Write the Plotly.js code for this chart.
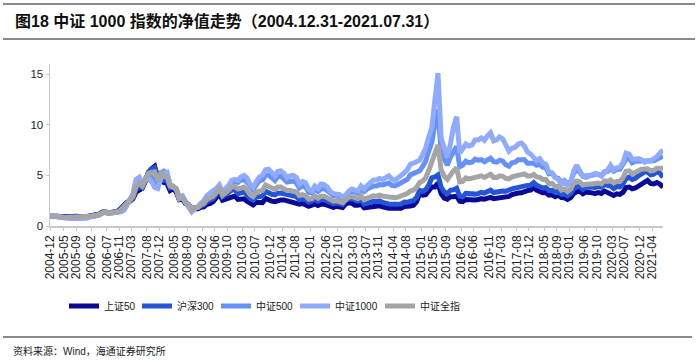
<!DOCTYPE html>
<html>
<head>
<meta charset="utf-8">
<script src="https://cdn.plot.ly/plotly-3.0.1.min.js"></script>
<style>html,body{margin:0;padding:0;background:#fff;}#chart{width:700px;height:363px;}</style>
</head>
<body>
<div id="chart"></div>
<script>
// Month-end observation dates, 2004-12 .. 2021-07
var months = [];
(function(){
  for (var y = 2004; y <= 2021; y++) {
    for (var m = 1; m <= 12; m++) {
      if (y === 2004 && m < 12) continue;
      if (y === 2021 && m > 7) break;
      var last = new Date(Date.UTC(y, m, 0)).getUTCDate();
      months.push(y + '-' + (m < 10 ? '0' + m : m) + '-' + last);
    }
  }
})();

var seriesNames = ['上证50', '沪深300', '中证500', '中证1000', '中证全指'];

var sz50 = [1.00,
 0.97,1.02,0.92,0.92,0.84,0.88,0.89,0.95,0.93,0.89,0.89,0.92,
 1.00,1.02,1.04,1.17,1.36,1.40,1.28,1.32,1.38,1.46,1.72,2.14,
 2.36,2.44,2.70,3.35,3.60,3.72,4.40,5.30,5.65,5.90,4.75,5.20,
 4.30,4.20,3.50,3.70,3.35,2.60,2.65,2.20,2.10,1.62,1.70,1.70,
 1.85,1.88,2.15,2.20,2.40,2.80,3.20,2.55,2.65,2.80,2.95,2.95,
 2.62,2.65,2.68,2.45,2.18,2.08,2.35,2.30,2.30,2.72,2.55,2.45,
 2.40,2.55,2.58,2.58,2.50,2.50,2.42,2.35,2.15,2.22,2.12,1.95,
 2.05,2.18,2.02,2.18,2.15,2.05,1.95,1.85,1.95,1.92,1.82,2.18,
 2.30,2.25,2.05,2.05,2.15,1.80,1.85,1.95,1.98,1.95,2.00,1.88,
 1.78,1.75,1.75,1.76,1.74,1.75,1.92,1.90,1.98,2.05,2.40,3.20,
 3.05,3.10,3.40,3.85,3.85,4.25,3.20,2.75,2.65,2.90,2.90,2.95,
 2.45,2.40,2.62,2.58,2.60,2.58,2.62,2.70,2.65,2.70,2.82,2.70,
 2.75,2.80,2.80,2.82,2.92,3.10,3.22,3.25,3.28,3.45,3.50,3.55,
 3.80,3.55,3.38,3.28,3.30,3.05,3.08,2.90,3.05,2.80,2.78,2.62,
 2.80,3.20,3.38,3.42,3.18,3.35,3.32,3.25,3.22,3.30,3.22,3.45,
 3.30,3.22,3.02,3.18,3.12,3.32,3.80,3.85,3.68,3.75,3.95,4.15,
 4.35,4.50,4.20,4.15,4.30,4.15,3.82];

var hs300 = [1.00,
 0.98,1.03,0.93,0.92,0.85,0.87,0.88,0.94,0.92,0.88,0.89,0.92,
 1.00,1.03,1.05,1.17,1.34,1.39,1.29,1.33,1.38,1.44,1.65,2.04,
 2.31,2.45,2.78,3.60,3.90,3.80,4.47,5.32,5.60,5.75,4.74,5.34,
 4.53,4.54,3.77,3.87,3.56,2.70,2.75,2.30,2.14,1.66,1.82,1.82,
 1.99,2.08,2.41,2.51,2.70,3.10,3.70,2.90,3.05,3.30,3.55,3.58,
 3.20,3.28,3.35,3.07,2.71,2.56,2.86,2.90,2.94,3.43,3.25,3.13,
 3.08,3.24,3.26,3.20,3.06,3.04,2.98,2.90,2.60,2.70,2.60,2.35,
 2.46,2.63,2.45,2.62,2.60,2.46,2.33,2.20,2.29,2.25,2.14,2.52,
 2.69,2.67,2.50,2.47,2.60,2.18,2.23,2.37,2.43,2.41,2.48,2.33,
 2.20,2.18,2.15,2.16,2.16,2.17,2.37,2.34,2.45,2.51,2.81,3.53,
 3.43,3.57,4.05,4.75,4.84,5.05,3.82,3.37,3.20,3.53,3.57,3.73,
 2.95,2.88,3.22,3.16,3.17,3.15,3.20,3.33,3.25,3.34,3.54,3.31,
 3.39,3.45,3.46,3.43,3.49,3.67,3.74,3.82,3.84,4.00,4.01,4.03,
 4.28,4.02,3.90,3.76,3.80,3.51,3.52,3.33,3.44,3.15,3.17,3.01,
 3.20,3.67,3.87,3.91,3.63,3.83,3.84,3.80,3.81,3.89,3.83,4.10,
 4.00,3.94,3.69,3.91,3.87,4.16,4.70,4.82,4.59,4.70,4.96,5.21,
 5.35,5.34,5.05,5.12,5.33,5.22,4.81];

var zz500 = [1.00,
 0.98,1.02,0.88,0.85,0.76,0.78,0.76,0.82,0.80,0.76,0.77,0.82,
 0.92,0.97,1.00,1.10,1.28,1.35,1.25,1.28,1.32,1.33,1.42,1.60,
 2.10,2.50,3.10,4.40,4.60,4.05,4.70,5.00,4.80,4.40,4.20,5.10,
 5.40,5.20,4.10,3.90,3.70,2.80,2.95,2.40,2.05,1.50,1.75,1.85,
 2.20,2.40,2.85,3.05,3.20,3.45,3.85,3.20,3.45,3.85,4.30,4.40,
 4.30,4.55,4.55,4.35,3.85,3.55,4.10,4.45,4.55,5.00,5.05,4.80,
 4.50,4.90,4.90,4.65,4.35,4.40,4.45,4.25,3.75,3.95,3.85,3.30,
 3.25,3.65,3.40,3.65,3.70,3.50,3.20,3.00,3.05,2.95,2.75,3.00,
 3.35,3.45,3.30,3.25,3.65,3.40,3.65,3.85,3.95,3.95,4.10,4.05,
 4.10,4.25,4.00,3.95,4.10,4.25,4.50,4.60,5.05,5.15,5.25,5.45,
 5.90,6.40,7.40,8.25,10.10,11.50,7.30,6.50,6.00,6.80,7.40,7.85,
 5.85,6.00,6.40,6.25,6.30,6.60,6.50,6.55,6.35,6.55,6.70,6.35,
 6.30,6.50,6.40,6.05,5.90,6.25,6.30,6.55,6.60,6.55,6.20,6.25,
 6.20,6.00,6.10,5.80,5.75,5.15,5.20,4.80,4.70,4.30,4.50,4.15,
 4.40,5.20,5.60,5.30,4.90,4.95,4.95,5.00,5.10,5.10,4.95,5.35,
 5.40,5.70,5.40,5.60,5.60,6.05,6.60,6.70,6.25,6.40,6.40,6.35,
 6.35,6.40,6.35,6.45,6.60,6.75,6.90];

var zz1000 = [1.00,
 0.98,1.03,0.88,0.85,0.74,0.76,0.74,0.80,0.78,0.74,0.75,0.80,
 0.90,0.95,0.98,1.08,1.27,1.38,1.25,1.28,1.33,1.32,1.40,1.55,
 2.10,2.55,3.20,4.60,4.80,3.90,4.55,4.70,4.40,3.80,3.70,4.70,
 5.20,5.30,4.10,3.80,3.65,2.70,2.90,2.30,1.95,1.40,1.72,1.88,
 2.25,2.50,3.00,3.30,3.50,3.70,4.05,3.35,3.60,4.00,4.50,4.60,
 4.50,4.85,5.00,4.75,4.10,3.80,4.40,4.85,5.00,5.55,5.60,5.30,
 4.95,5.40,5.45,5.20,4.75,4.95,5.00,4.80,4.15,4.40,4.25,3.60,
 3.45,3.95,3.70,4.15,4.10,3.85,3.40,3.20,3.20,3.10,2.85,3.05,
 3.45,3.65,3.55,3.45,3.95,3.65,4.00,4.35,4.55,4.55,4.70,4.60,
 4.75,4.95,4.65,4.50,4.75,4.95,5.25,5.55,6.10,6.20,6.40,6.50,
 7.10,7.70,8.80,9.70,12.50,15.10,8.70,7.70,6.80,8.10,9.80,10.80,
 7.20,7.60,8.10,7.90,8.00,8.50,8.50,8.70,8.45,8.90,9.20,8.40,
 8.50,8.80,8.60,8.00,7.40,7.70,7.75,8.10,8.20,7.90,7.30,7.10,
 6.70,6.45,6.65,6.20,6.10,5.30,5.25,4.80,4.60,4.10,4.40,4.05,
 4.30,5.40,6.00,5.55,4.95,4.80,4.90,5.00,5.20,5.10,4.95,5.25,
 5.50,6.00,5.50,5.75,5.80,6.25,7.20,7.10,6.60,6.60,6.65,6.55,
 6.30,6.45,6.40,6.65,6.85,7.20,7.50];

var zzqz = [1.00,
 0.98,1.03,0.91,0.89,0.81,0.83,0.83,0.89,0.87,0.83,0.84,0.87,
 0.96,1.00,1.02,1.13,1.32,1.38,1.28,1.31,1.36,1.40,1.58,1.90,
 2.25,2.50,2.90,3.90,4.25,3.95,4.55,5.20,5.30,5.35,4.45,5.20,
 4.90,4.85,3.95,3.95,3.65,2.75,2.85,2.35,2.15,1.60,1.80,1.85,
 2.10,2.25,2.65,2.80,2.95,3.30,3.80,3.05,3.25,3.55,3.85,3.90,
 3.65,3.80,3.85,3.55,3.10,2.90,3.30,3.45,3.50,4.05,3.95,3.75,
 3.60,3.85,3.85,3.70,3.50,3.50,3.45,3.35,3.00,3.10,3.00,2.65,
 2.70,2.95,2.75,2.95,2.95,2.80,2.60,2.45,2.50,2.45,2.30,2.60,
 2.85,2.90,2.75,2.70,2.95,2.60,2.75,2.90,2.98,2.95,3.05,2.95,
 2.90,2.95,2.85,2.80,2.85,2.95,3.15,3.20,3.45,3.55,3.80,4.30,
 4.45,4.75,5.50,6.30,7.10,8.00,5.55,4.90,4.60,5.15,5.45,5.75,
 4.35,4.40,4.75,4.65,4.70,4.85,4.85,4.95,4.80,4.95,5.10,4.80,
 4.80,4.95,4.90,4.70,4.65,4.85,4.90,5.05,5.10,5.15,4.95,4.95,
 5.10,4.85,4.80,4.60,4.60,4.15,4.20,3.90,3.90,3.55,3.65,3.40,
 3.65,4.20,4.45,4.35,4.05,4.15,4.15,4.15,4.20,4.25,4.15,4.45,
 4.40,4.55,4.25,4.40,4.40,4.75,5.40,5.45,5.15,5.25,5.45,5.60,
 5.60,5.65,5.45,5.50,5.70,5.75,5.70];

var tickLabels = ['2004-12','2005-05','2005-09','2006-02','2006-07','2006-11','2007-03','2007-08','2007-12',
 '2008-05','2008-09','2009-02','2009-06','2009-10','2010-03','2010-07','2010-12','2011-04','2011-08',
 '2012-01','2012-06','2012-10','2013-03','2013-07','2013-11','2014-04','2014-08','2015-01','2015-05',
 '2015-09','2016-02','2016-06','2016-11','2017-03','2017-08','2017-12','2018-05','2018-09','2019-01',
 '2019-06','2019-10','2020-03','2020-07','2020-12','2021-04'];
var tickVals = tickLabels.map(function(s, i){ return i === 0 ? '2004-12-31' : s + '-15'; });

var colors = ['#0a0a96', '#2454d8', '#6690fa', '#8fabff', '#a5a5a5'];
var legendWidths = [28, 34, 34, 40, 40];
var data = [sz50, hs300, zz500, zz1000, zzqz];

var traces = data.map(function(v, i){
  return {
    x: months, y: v, type: 'scatter', mode: 'lines', name: seriesNames[i],
    line: {color: colors[i], width: 5}, hoverinfo: 'skip', legendwidth: legendWidths[i]
  };
});

var FONT = 'Liberation Sans, Arial, Noto Sans CJK SC, sans-serif';
// plot area in px: x 50..663, y 64..226
function px(x){ return (x - 50) / 613; }
function py(y){ return (226 - y) / 162; }

var layout = {
  width: 700, height: 363,
  margin: {l: 50, r: 37, t: 64, b: 137, pad: 0},
  paper_bgcolor: '#fff', plot_bgcolor: '#fff',
  showlegend: true,
  font: {family: FONT, color: '#1a1a1a', size: 12},
  title: {
    text: '<b>图18 中证 1000 指数的净值走势（2004.12.31-2021.07.31）</b>',
    font: {family: FONT, size: 16, color: '#111'},
    xref: 'container', yref: 'container', x: 15/700, xanchor: 'left', y: 1 - 21/363, yanchor: 'middle'
  },
  xaxis: {
    type: 'date', range: ['2004-12-31', '2021-07-31'],
    tickmode: 'array', tickvals: tickVals, ticktext: tickLabels, tickangle: -90,
    tickfont: {family: FONT, size: 12, color: '#222'},
    showgrid: false, zeroline: false, showline: true, linecolor: '#c8c8c8', linewidth: 1.5,
    ticks: 'outside', ticklen: 3, tickcolor: '#c8c8c8', fixedrange: true
  },
  yaxis: {
    range: [0, 16], tickvals: [0, 5, 10, 15], ticktext: ['0', '5', '10', '15'],
    tickfont: {family: FONT, size: 11.5, color: '#222'},
    showgrid: false, zeroline: false, showline: true, linecolor: '#c8c8c8', linewidth: 1.5,
    ticks: 'outside', ticklen: 3, tickcolor: '#c8c8c8', fixedrange: true
  },
  legend: {
    orientation: 'h', x: px(64), xanchor: 'left', y: py(306), yanchor: 'middle',
    font: {family: FONT, size: 10, color: '#1a1a1a'}, itemwidth: 30, tracegroupgap: 0,
    bgcolor: 'rgba(0,0,0,0)'
  },
  shapes: [
    {type: 'line', xref: 'paper', yref: 'paper', x0: px(3), x1: px(695), y0: py(4), y1: py(4), line: {color: '#8a8a8a', width: 2}},
    {type: 'line', xref: 'paper', yref: 'paper', x0: px(3), x1: px(695), y0: py(39), y1: py(39), line: {color: '#8a8a8a', width: 2}},
    {type: 'line', xref: 'paper', yref: 'paper', x0: px(3), x1: px(692), y0: py(337), y1: py(337), line: {color: '#8a8a8a', width: 2}}
  ],
  annotations: [
    {text: '资料来源：Wind，海通证券研究所', xref: 'paper', yref: 'paper', x: px(11), y: py(351),
     xanchor: 'left', yanchor: 'middle', showarrow: false, font: {family: FONT, size: 10, color: '#1a1a1a'}}
  ]
};

Plotly.newPlot('chart', traces, layout, {staticPlot: true, displayModeBar: false});
</script>
</body>
</html>
